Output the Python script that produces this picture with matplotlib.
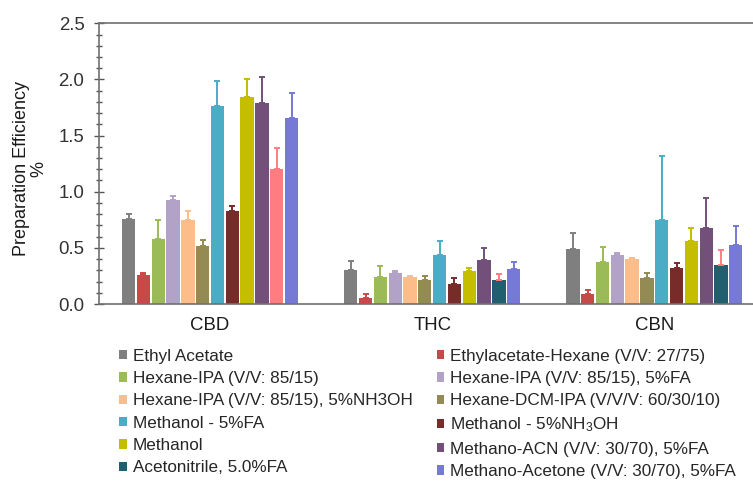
import matplotlib
matplotlib.use("Agg")
import matplotlib.pyplot as plt
from matplotlib.patches import Patch
import numpy as np

plt.rcParams['font.family'] = ['Liberation Sans', 'DejaVu Sans']
plt.rcParams['mathtext.fontset'] = 'custom'
plt.rcParams['mathtext.rm'] = 'Liberation Sans'
plt.rcParams['mathtext.it'] = 'Liberation Sans:italic'

categories = ["CBD", "THC", "CBN"]
series_labels = [
    "Ethyl Acetate",
    "Ethylacetate-Hexane (V/V: 27/75)",
    "Hexane-IPA (V/V: 85/15)",
    "Hexane-IPA (V/V: 85/15), 5%FA",
    "Hexane-IPA (V/V: 85/15), 5%NH3OH",
    "Hexane-DCM-IPA (V/V/V: 60/30/10)",
    "Methanol - 5%FA",
    "Methanol - 5%NH$_3$OH",
    "Methanol",
    "Methano-ACN (V/V: 30/70), 5%FA",
    "Acetonitrile, 5.0%FA",
    "Methano-Acetone (V/V: 30/70), 5%FA",
]
series_colors = ["#7f7f7f", "#c84a48", "#9bbb59", "#b3a2c7", "#fdbd8a", "#948a54",
                 "#4bacc6", "#772c2a", "#c4bd00", "#72507a", "#215f70", "#7679d6"]
error_colors = ["#7f7f7f", "#c84a48", "#9bbb59", "#b3a2c7", "#fdbd8a", "#948a54",
                "#4bacc6", "#772c2a", "#c4bd00", "#72507a", "#ff7c80", "#7679d6"]
# CBD bar of "Acetonitrile, 5.0%FA" is drawn in pink in the reference
cbd_override_color = "#ff7c80"

values_cbd = [0.76, 0.26, 0.58, 0.93, 0.745, 0.52, 1.765, 0.83, 1.84, 1.79, 1.205, 1.66]
values_thc = [0.30, 0.056, 0.24, 0.28, 0.24, 0.21, 0.44, 0.18, 0.29, 0.39, 0.21, 0.31]
values_cbn = [0.49, 0.092, 0.375, 0.44, 0.405, 0.235, 0.745, 0.325, 0.56, 0.675, 0.345, 0.525]
errors_cbd = [0.045, 0.02, 0.17, 0.03, 0.08, 0.05, 0.22, 0.04, 0.16, 0.23, 0.18, 0.22]
errors_thc = [0.085, 0.033, 0.095, 0.012, 0.005, 0.038, 0.125, 0.05, 0.03, 0.113, 0.053, 0.068]
errors_cbn = [0.14, 0.033, 0.13, 0.018, 0.005, 0.04, 0.575, 0.04, 0.116, 0.27, 0.14, 0.17]

fig = plt.figure(figsize=(7.53, 4.83), dpi=100)
ax = fig.add_axes([0.1315, 0.3706, 0.885, 0.5812])

n = len(series_labels)
pitch = 0.8 / n
width = pitch * 0.9
x = np.arange(len(categories))
vals = np.array([values_cbd, values_thc, values_cbn])
errs = np.array([errors_cbd, errors_thc, errors_cbn])

for i in range(n):
    pos = x - 0.4 + pitch * (i + 0.5)
    cols = [series_colors[i]] * len(categories)
    if i == 10:
        cols[0] = cbd_override_color
    ax.bar(pos, vals[:, i], width=width, color=cols, zorder=2)
    ax.errorbar(pos, vals[:, i], yerr=[np.zeros(len(categories)), errs[:, i]],
                fmt='none', ecolor=error_colors[i], elinewidth=1.4,
                capsize=2.3, capthick=1.4, zorder=3)

ax.set_xlim(-0.5, 2.5)
ax.set_ylim(0, 2.5)
ax.set_xticks(x)
ax.set_xticklabels(categories, fontsize=13.4, color="#1a1a1a")
ax.tick_params(axis='x', length=0, pad=9)
ax.set_yticks(np.arange(0, 2.51, 0.5))
ax.set_yticklabels([f"{v:.1f}" for v in np.arange(0, 2.51, 0.5)], fontsize=13.4, color="#333333")
ax.set_yticks(np.arange(0, 2.51, 0.1), minor=True)
ax.tick_params(axis='y', which='major', direction='inout', length=7, width=1, color="#555555", pad=7)
ax.tick_params(axis='y', which='minor', direction='inout', length=5, width=1, color="#555555")

for s in ['top', 'bottom', 'left']:
    ax.spines[s].set_color("#707070")
    ax.spines[s].set_linewidth(1.2)
ax.spines['right'].set_visible(False)

fig.text(0.0398, 0.651, "Preparation Efficiency\n%", rotation=90, ha='center', va='center',
         fontsize=13, color="#1a1a1a", linespacing=1.0)

col1 = [0, 2, 4, 6, 8, 10]
col2 = [1, 3, 5, 7, 9, 11]
leg_kw = dict(loc='upper left', frameon=False, fontsize=12.3, handlelength=0.45,
              handleheight=0.45, handletextpad=0.35, labelspacing=0.43,
              labelcolor="#262626", borderaxespad=0, borderpad=0)
leg1 = fig.legend([Patch(facecolor=series_colors[i], edgecolor='none') for i in col1],
                  [series_labels[i] for i in col1], bbox_to_anchor=(0.1585, 0.278), **leg_kw)
leg2 = fig.legend([Patch(facecolor=series_colors[i], edgecolor='none') for i in col2],
                  [series_labels[i] for i in col2], bbox_to_anchor=(0.58, 0.278), **leg_kw)

fig.savefig("out.png", dpi=100)
